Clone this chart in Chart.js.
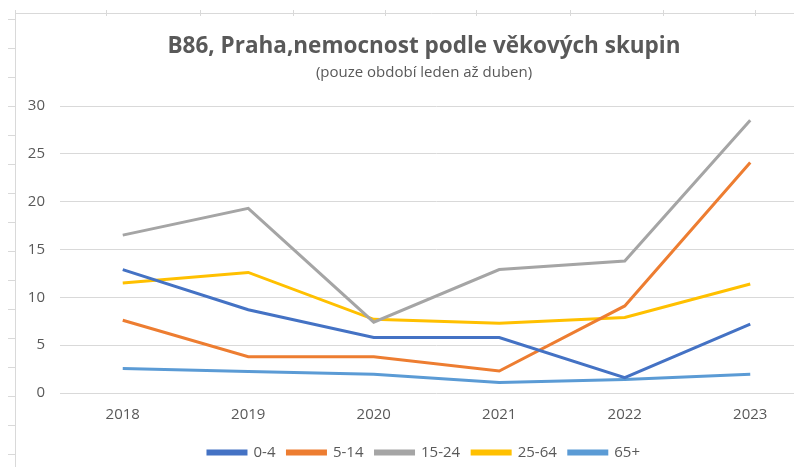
<!DOCTYPE html>
<html>
<head>
<meta charset="utf-8">
<script src="https://cdn.jsdelivr.net/npm/chart.js@4/dist/chart.umd.min.js"></script>
<style>
  html, body { margin: 0; padding: 0; background: #ffffff; overflow: hidden; width: 794px; height: 467px; }
  #wrap { position: absolute; left: 0; top: 0; width: 848px; height: 467px; }
</style>
</head>
<body>
<div id="wrap"><canvas id="c" width="848" height="467"></canvas></div>
<script>
const years = ["2018", "2019", "2020", "2021", "2022", "2023"];
const seriesNames = ["0-4", "5-14", "15-24", "25-64", "65+"];
const age0_4   = [12.9, 8.7, 5.8, 5.8, 1.6, 7.2];
const age5_14  = [7.6, 3.8, 3.8, 2.3, 9.1, 24.1];
const age15_24 = [16.5, 19.3, 7.4, 12.9, 13.8, 28.5];
const age25_64 = [11.5, 12.6, 7.7, 7.3, 7.9, 11.4];
const age65    = [2.55, 2.25, 1.95, 1.1, 1.4, 1.95];
const yTicks = [0, 5, 10, 15, 20, 25, 30];
const titleText = "B86, Praha,nemocnost podle věkových skupin";
const subtitleText = "(pouze období leden až duben)";

const colors = ["#4472C4", "#ED7D31", "#A5A5A5", "#FFC000", "#5B9BD5"];
const values = [age0_4, age5_14, age15_24, age25_64, age65];
const FONT = "'Open Sans', sans-serif";
const TXT = "#595959";

const framePlugin = {
  id: 'frame',
  beforeDraw(chart) {
    const ctx = chart.ctx;
    ctx.save();
    ctx.strokeStyle = "#d9d9d9";
    ctx.lineWidth = 1;
    ctx.beginPath();
    ctx.moveTo(15.5, 13.5); ctx.lineTo(848, 13.5);
    ctx.moveTo(15.5, 10); ctx.lineTo(15.5, 467);
    [106, 200, 293, 385, 476, 570, 663, 755].forEach(x => { ctx.moveTo(x + 0.5, 10); ctx.lineTo(x + 0.5, 16); });
    for (let y = 19; y < 467; y += 29) { ctx.moveTo(8, y + 0.5); ctx.lineTo(15, y + 0.5); }
    ctx.stroke();
    ctx.restore();
  }
};

new Chart(document.getElementById('c'), {
  type: 'line',
  data: {
    labels: years,
    datasets: seriesNames.map((n, i) => ({
      label: n,
      data: values[i],
      borderColor: colors[i],
      backgroundColor: colors[i],
      borderWidth: 3,
      pointRadius: 0,
      tension: 0,
      fill: false
    }))
  },
  options: {
    responsive: false,
    animation: false,
    devicePixelRatio: 1,
    layout: { padding: { left: 35, right: 35, top: 0, bottom: -3 } },
    plugins: {
      title: {
        display: true,
        text: titleText,
        color: TXT,
        font: { family: FONT, size: 22.5, weight: 'bold' },
        padding: { top: 33, bottom: 0 }
      },
      subtitle: {
        display: true,
        text: subtitleText,
        color: TXT,
        font: { family: FONT, size: 15 },
        padding: { top: 4, bottom: 24 }
      },
      legend: {
        position: 'bottom',
        labels: {
          color: TXT,
          font: { family: FONT, size: 15 },
          boxWidth: 38,
          boxHeight: 3,
          padding: 12
        }
      },
      tooltip: { enabled: false }
    },
    scales: {
      x: {
        offset: true,
        afterFit(scale) { scale.height = 40; },
        grid: { display: false, drawTicks: false },
        border: { display: false },
        ticks: { color: TXT, font: { family: FONT, size: 15 }, padding: 13 }
      },
      y: {
        min: 0, max: 30,
        afterFit(scale) { scale.width = 25; scale._computeLabelArea = () => undefined; },
        afterBuildTicks(scale) { scale.ticks = yTicks.map(v => ({ value: v })); },
        grid: { color: "#d9d9d9", drawTicks: false, lineWidth: 1 },
        border: { display: false },
        ticks: { color: TXT, font: { family: FONT, size: 15 }, padding: 15 }
      }
    }
  },
  plugins: [framePlugin]
});
</script>
</body>
</html>
